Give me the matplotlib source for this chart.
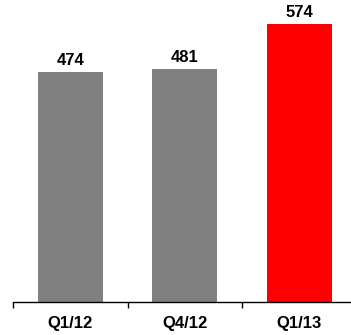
import matplotlib
matplotlib.use("Agg")
import matplotlib.pyplot as plt

categories = ["Q1/12", "Q4/12", "Q1/13"]
values = [474, 481, 574]
colors = ["#808080", "#808080", "#FF0000"]

plt.rcParams['font.family'] = ['Liberation Sans', 'DejaVu Sans']

W, H = 351, 335
fig = plt.figure(figsize=(W / 100, H / 100), dpi=100)
ax = fig.add_axes([13 / W, (H - 302) / H, 1 - 13 / W, 302 / H])

x = list(range(len(categories)))
ax.bar(x, values, width=0.57, color=colors, zorder=2)
for xi, v in zip(x, values):
    ax.annotate(str(v), (xi, v), xytext=(0, 3), textcoords="offset points",
                ha="center", va="bottom", fontsize=12, fontweight="bold")

ax.set_xlim(-0.5, -0.5 + (W - 13) / 114.5)
ax.set_ylim(0, 302 * 2.064)

for s in ["top", "right", "left"]:
    ax.spines[s].set_visible(False)
ax.spines["bottom"].set_linewidth(1.0)
ax.set_yticks([])
ax.set_xticks(x)
ax.set_xticklabels(categories, fontsize=12, fontweight="bold")
ax.tick_params(axis="x", which="major", length=0, pad=10)
ax.set_xticks([-0.5, 0.5, 1.5], minor=True)
ax.tick_params(axis="x", which="minor", length=4, width=1, direction="out")

fig.savefig("out.png", dpi=100)
